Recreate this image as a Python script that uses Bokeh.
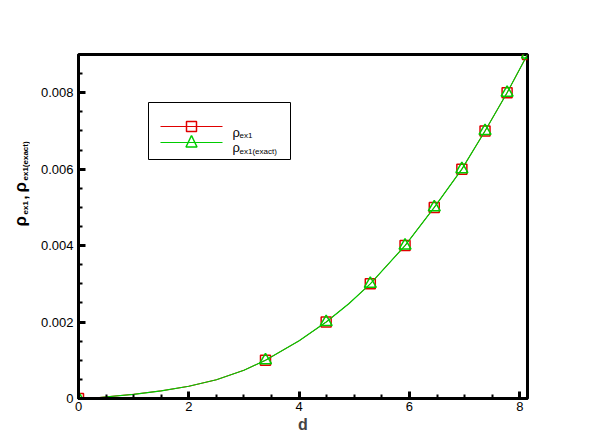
import math
from bokeh.plotting import figure
from bokeh.layouts import row
from bokeh.models import (Range1d, SingleIntervalTicker, CustomJSTickFormatter, Label,
                          BoxAnnotation, PolyAnnotation, Arrow)
from bokeh.embed import file_html
from bokeh.resources import INLINE

# ---- data ----
d_points = [0.0, 3.39, 4.49, 5.29, 5.92, 6.45, 6.95, 7.37, 7.77, 8.14]
rho_ex1 = [0.0, 0.001, 0.002, 0.003, 0.004, 0.005, 0.006, 0.007, 0.008, 0.009]
rho_ex1_exact = [0.0, 0.001, 0.002, 0.003, 0.004, 0.005, 0.006, 0.007, 0.008, 0.009]

d_curve = [0.0, 0.33, 1.0, 1.5, 2.0, 2.5, 3.0, 3.39, 4.0, 4.49, 4.9, 5.29, 5.92,
           6.45, 6.95, 7.37, 7.77, 8.14]
rho_curve = [0.0, 0.00002, 0.00011, 0.0002, 0.00032, 0.00049, 0.00074, 0.001, 0.00151,
             0.002, 0.00248, 0.003, 0.004, 0.005, 0.006, 0.007, 0.008, 0.009]

x_ticks = [0, 2, 4, 6, 8]
y_ticks = [0, 0.002, 0.004, 0.006, 0.008]

RED = "#e00000"
GREEN = "#00cc00"
FONT = "Liberation Sans"

p = figure(width=562, height=440, output_backend="svg", toolbar_location=None,
           x_range=Range1d(0, 8.14), y_range=Range1d(0, 0.009),
           min_border_left=48, min_border_right=65, min_border_top=54, min_border_bottom=42)
p.xgrid.visible = False
p.ygrid.visible = False
p.outline_line_color = "black"
p.outline_line_width = 3
p.background_fill_color = "white"
p.border_fill_color = "white"

p.xaxis.ticker = SingleIntervalTicker(interval=x_ticks[1] - x_ticks[0], num_minor_ticks=4)
p.yaxis.ticker = SingleIntervalTicker(interval=y_ticks[1] - y_ticks[0], num_minor_ticks=4)
p.yaxis.formatter = CustomJSTickFormatter(code="return Math.abs(tick) < 1e-12 ? '0' : tick.toFixed(3);")

for ax in (p.xaxis, p.yaxis):
    ax.axis_line_width = 3
    ax.axis_line_color = "black"
    ax.major_tick_in = 7
    ax.major_tick_out = 0
    ax.major_tick_line_width = 3
    ax.minor_tick_in = 4
    ax.minor_tick_out = 0
    ax.minor_tick_line_width = 2
    ax.major_label_text_font = FONT
    ax.major_label_text_font_size = "13px"
    ax.major_label_text_color = "black"

p.xaxis.major_label_standoff = 3
p.yaxis.major_label_standoff = 5
p.xaxis.axis_label = "d"
p.xaxis.axis_label_text_font = FONT
p.xaxis.axis_label_text_font_size = "16px"
p.xaxis.axis_label_text_font_style = "bold"
p.xaxis.axis_label_standoff = 2
p.yaxis.axis_label = None

# ---- series ----
p.line(d_curve, rho_curve, line_color=RED, line_width=1)
p.scatter(d_points, rho_ex1, marker="square", size=10, line_color=RED, fill_alpha=0, line_width=1.5)
p.scatter(d_points, rho_ex1_exact, marker="triangle", size=12, line_color=GREEN, fill_alpha=0, line_width=1.5)
p.line(d_curve, rho_curve, line_color=GREEN, line_width=1.2)


def lab(fig, text, x, y, size, bold=True, angle=0.0):
    fig.add_layout(Label(x=x, y=y, x_units="screen", y_units="screen", text=text,
                         text_font=FONT, text_font_size=size,
                         text_font_style="bold" if bold else "normal",
                         text_color="black", angle=angle, text_align="left",
                         text_baseline="alphabetic"))

# ---- legend ----
p.add_layout(BoxAnnotation(left=70, right=212, bottom=239, top=296,
                           left_units="screen", right_units="screen",
                           bottom_units="screen", top_units="screen",
                           fill_alpha=0, line_color="black", line_width=1, line_alpha=1))
p.add_layout(Arrow(end=None, x_start=82, y_start=272, x_end=144, y_end=272,
                   start_units="screen", end_units="screen", line_color=RED, line_width=1))
p.add_layout(BoxAnnotation(left=108, right=118, bottom=267, top=277,
                           left_units="screen", right_units="screen",
                           bottom_units="screen", top_units="screen",
                           fill_alpha=0, line_color=RED, line_width=1.5, line_alpha=1))
p.add_layout(Arrow(end=None, x_start=82, y_start=256, x_end=144, y_end=256,
                   start_units="screen", end_units="screen", line_color=GREEN, line_width=1))
p.add_layout(PolyAnnotation(xs=[107.5, 113, 118.5], ys=[251.5, 263, 251.5],
                            xs_units="screen", ys_units="screen",
                            fill_alpha=0, line_color=GREEN, line_width=1.5, line_alpha=1))
lab(p, "ρ", 154, 266, "13px", False)
lab(p, "ex1", 161, 263, "8px", False)
lab(p, "ρ", 154, 251, "13px", False)
lab(p, "ex1(exact)", 161, 247, "8px", False)

# ---- y axis label in a narrow side panel (composed, rotated) ----
q = figure(width=30, height=440, output_backend="svg", toolbar_location=None,
           x_range=Range1d(0, 30), y_range=Range1d(0, 440),
           min_border=0, min_border_left=0, min_border_right=0,
           min_border_top=0, min_border_bottom=0)
q.axis.visible = False
q.grid.visible = False
q.outline_line_color = None
q.background_fill_color = "white"
q.border_fill_color = "white"

A = math.pi / 2
lab(q, "ρ", 20, 172, "17px", True, A)
lab(q, "ex1", 25, 184, "8px", True, A)
lab(q, ",", 21, 199, "14px", True, A)
lab(q, "ρ", 20, 206, "17px", True, A)
lab(q, "ex1(exact)", 25, 218, "8px", True, A)

layout = row(q, p)
open("out.html", "w").write(file_html(layout, INLINE))
